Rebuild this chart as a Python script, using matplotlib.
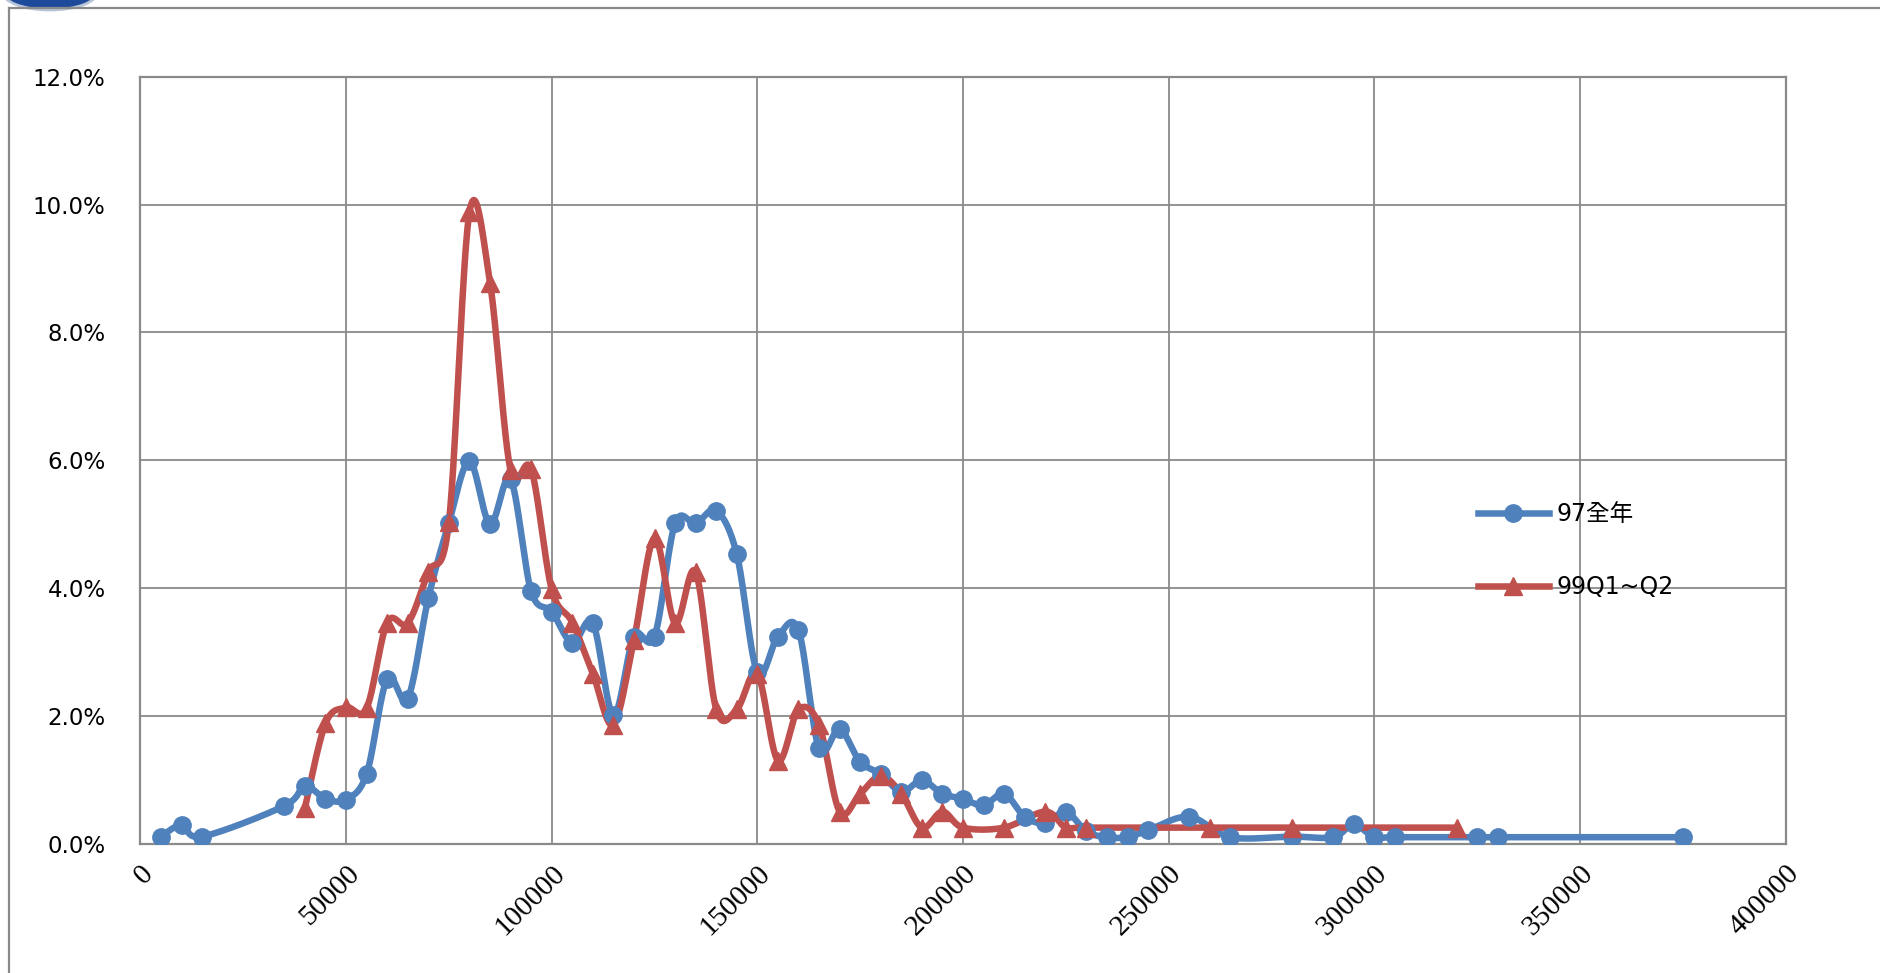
import numpy as np
import matplotlib
matplotlib.use('Agg')
import matplotlib.pyplot as plt
from matplotlib.lines import Line2D
from matplotlib.patches import Ellipse
from matplotlib.ticker import FuncFormatter, MultipleLocator

# 97全年 series (price bucket, share %)
x97 = [5000, 10000, 15000, 35000, 40000, 45000, 50000, 55000, 60000, 65000,
       70000, 75000, 80000, 85000, 90000, 95000, 100000, 105000, 110000, 115000,
       120000, 125000, 130000, 135000, 140000, 145000, 150000, 155000, 160000, 165000,
       170000, 175000, 180000, 185000, 190000, 195000, 200000, 205000, 210000, 215000,
       220000, 225000, 230000, 235000, 240000, 245000, 255000, 265000, 280000, 290000,
       295000, 300000, 305000, 325000, 330000, 375000]
y97 = [0.11, 0.29, 0.11, 0.59, 0.90, 0.70, 0.69, 1.09, 2.58, 2.27,
       3.84, 5.02, 5.98, 5.00, 5.70, 3.95, 3.63, 3.14, 3.45, 2.01,
       3.24, 3.24, 5.01, 5.01, 5.21, 4.53, 2.68, 3.24, 3.34, 1.49,
       1.79, 1.28, 1.09, 0.81, 0.99, 0.78, 0.70, 0.60, 0.78, 0.42,
       0.32, 0.50, 0.19, 0.10, 0.10, 0.21, 0.42, 0.10, 0.11, 0.10,
       0.30, 0.10, 0.10, 0.10, 0.10, 0.10]

# 99Q1~Q2 series
x99 = [40000, 45000, 50000, 55000, 60000, 65000, 70000, 75000, 80000, 85000,
       90000, 95000, 100000, 105000, 110000, 115000, 120000, 125000, 130000, 135000,
       140000, 145000, 150000, 155000, 160000, 165000, 170000, 175000, 180000, 185000,
       190000, 195000, 200000, 210000, 220000, 225000, 230000, 260000, 280000, 320000]
y99 = [0.56, 1.88, 2.13, 2.12, 3.46, 3.45, 4.25, 5.03, 9.88, 8.78,
       5.84, 5.86, 3.98, 3.46, 2.66, 1.86, 3.19, 4.78, 3.45, 4.25,
       2.10, 2.10, 2.66, 1.30, 2.10, 1.86, 0.50, 0.78, 1.06, 0.78,
       0.25, 0.50, 0.25, 0.25, 0.50, 0.25, 0.25, 0.25, 0.25, 0.25]

labels = ['97全年', '99Q1~Q2']
xticks = [0, 50000, 100000, 150000, 200000, 250000, 300000, 350000, 400000]

BLUE = '#4F81BD'
RED = '#C0504D'
GRID = '#8a8a8a'


def smooth(xs, ys, n=30):
    # Excel-style smoothed line: bezier with control points from neighbours
    p = np.column_stack([xs, ys]).astype(float)
    out = [p[0]]
    for i in range(len(p) - 1):
        p0 = p[i - 1] if i > 0 else p[i]
        p1, p2 = p[i], p[i + 1]
        p3 = p[i + 2] if i + 2 < len(p) else p[i + 1]
        c1 = p1 + (p2 - p0) / 6.0
        c2 = p2 - (p3 - p1) / 6.0
        t = np.linspace(0, 1, n)[1:, None]
        seg = ((1 - t) ** 3) * p1 + 3 * ((1 - t) ** 2) * t * c1 + 3 * (1 - t) * t ** 2 * c2 + t ** 3 * p2
        out.extend(seg)
    out = np.array(out)
    return out[:, 0], out[:, 1]


plt.rcParams['font.family'] = ['DejaVu Sans', 'Noto Sans CJK TC']

fig = plt.figure(figsize=(18.81, 9.73), dpi=100)
ax = fig.add_axes([140.4 / 1881, 1 - 843.6 / 973, 1645.2 / 1881, 766.8 / 973])

LW = 4.7
MS = 12.5
for xs, ys, c, m in [(x97, y97, BLUE, 'o'), (x99, y99, RED, '^')]:
    sx, sy = smooth(xs, ys)
    ax.plot(sx, sy, color=c, lw=LW, solid_capstyle='round', zorder=3)
    ax.plot(xs, ys, ls='none', marker=m, ms=MS, color=c, mec=c, zorder=4)

ax.set_xlim(0, 400000)
ax.set_ylim(0, 12)
ax.set_xticks(xticks)
ax.yaxis.set_major_locator(MultipleLocator(2))
ax.yaxis.set_major_formatter(FuncFormatter(lambda v, p: f'{v:.1f}%'))
ax.grid(True, color=GRID, lw=1.3, zorder=0)
ax.set_axisbelow(True)
for s in ax.spines.values():
    s.set_color(GRID)
    s.set_linewidth(1.6)
ax.tick_params(axis='both', length=0)
ax.tick_params(axis='y', labelsize=16.5, pad=25)
ax.set_xticklabels([str(v) for v in xticks], rotation=45, ha='right', va='top',
                   rotation_mode='anchor', fontsize=21, family='Liberation Serif')
ax.tick_params(axis='x', pad=12)

handles = [Line2D([], [], color=BLUE, lw=LW, marker='o', ms=MS),
           Line2D([], [], color=RED, lw=LW, marker='^', ms=MS)]
ax.legend(handles, labels, loc='center left', bbox_to_anchor=(0.8, 0.382),
          frameon=False, fontsize=17, handlelength=3.0, handletextpad=0.35,
          labelspacing=2.1)

# outer chart frame and cropped logo
fig.add_artist(Line2D([9 / 1881, 9 / 1881], [0, 1 - 8 / 973], transform=fig.transFigure,
                      color=GRID, lw=1.6))
fig.add_artist(Line2D([9 / 1881, 1], [1 - 8 / 973, 1 - 8 / 973], transform=fig.transFigure,
                      color=GRID, lw=1.6))
fig.add_artist(Ellipse((50 / 1881, 1 + 8 / 973), 95 / 1881, 36 / 973, transform=fig.transFigure,
                       facecolor='#1d4a9a', edgecolor='#b8c4d8', lw=2))

fig.savefig('out.png', dpi=100)
